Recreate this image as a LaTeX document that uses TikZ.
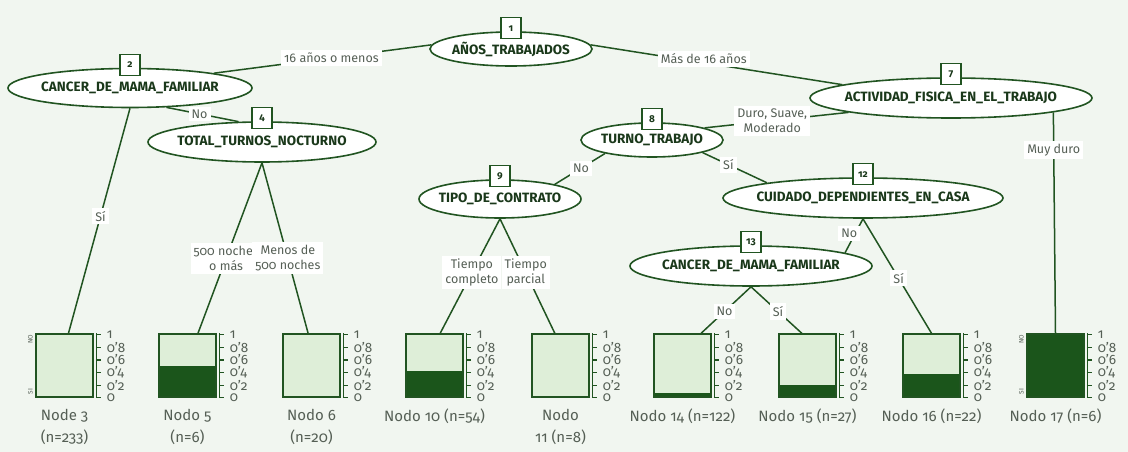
\documentclass[tikz,border=0pt]{standalone}
\usepackage{fontspec}
\setmainfont{Fira Sans}[Numbers=OldStyle]
\usepackage{xcolor}
\usepackage{tikz}
\usetikzlibrary{shapes.geometric}

\definecolor{treegreen}{RGB}{33,84,33}
\definecolor{bardark}{RGB}{27,85,27}
\definecolor{barlight}{RGB}{222,238,216}
\definecolor{pagebg}{RGB}{241,246,240}
\definecolor{namegreen}{RGB}{26,56,26}
\definecolor{labgrey}{RGB}{85,95,85}

% keep the ellipse size independent of the variable name
\newcommand\splitname[1]{\makebox[0pt]{#1}}

\begin{document}
\begin{tikzpicture}[x=1pt, y=-1pt,
    split/.style={ellipse, draw=treegreen, fill=white, line width=1.6pt, inner sep=0pt,
      font=\fontsize{13.5}{15}\selectfont\bfseries, text=namegreen},
    idbox/.style={draw=treegreen, fill=white, line width=1.3pt, minimum width=20pt,
      minimum height=21pt, inner sep=0pt, font=\fontsize{10}{11}\selectfont\bfseries, text=namegreen},
    edge/.style={treegreen, line width=1.5pt},
    elabel/.style={fill=white, inner sep=3pt, align=center, text=labgrey,
      font=\fontsize{12.5}{15}\selectfont},
    leaf/.style={draw=treegreen, fill=barlight, line width=1.4pt, minimum width=57pt,
      minimum height=63pt, inner sep=0pt},
    axis/.style={treegreen, line width=1.2pt},
    ticklab/.style={anchor=west, inner sep=0pt, text=labgrey, font=\fontsize{13.5}{13.5}\selectfont},
    leafcap/.style={anchor=north, inner sep=0pt, align=center, text=labgrey,
      font=\fontsize{15}{22}\selectfont},
    tinylab/.style={rotate=90, inner sep=0pt, text=labgrey, font=\fontsize{6.5}{7}\selectfont}]

    % Page
    \fill[pagebg] (0,0) rectangle (1128,452);
    \useasboundingbox (0,0) rectangle (1128,452);

    % Split nodes
    \node[split, minimum width=162pt, minimum height=34pt] (n1) at (511,49) {\splitname{AÑOS\_TRABAJADOS}};
    \node[split, minimum width=244pt, minimum height=39pt] (n2) at (130,88) {\splitname{CANCER\_DE\_MAMA\_FAMILIAR}};
    \node[split, minimum width=228pt, minimum height=40pt] (n4) at (262,142) {\splitname{TOTAL\_TURNOS\_NOCTURNO}};
    \node[split, minimum width=282pt, minimum height=40pt] (n7) at (951,98) {\splitname{ACTIVIDAD\_FISICA\_EN\_EL\_TRABAJO}};
    \node[split, minimum width=142pt, minimum height=34pt] (n8) at (652,140) {\splitname{TURNO\_TRABAJO}};
    \node[split, minimum width=162pt, minimum height=38pt] (n9) at (500,199) {\splitname{TIPO\_DE\_CONTRATO}};
    \node[split, minimum width=280pt, minimum height=40pt] (n12) at (863,198) {\splitname{CUIDADO\_DEPENDIENTES\_EN\_CASA}};
    \node[split, minimum width=242pt, minimum height=40pt] (n13) at (751,266) {\splitname{CANCER\_DE\_MAMA\_FAMILIAR}};

    % Node numbers
    \foreach \id in {1,2,4,7,8,9,12,13}
      \node[idbox] (b\id) at ([yshift=3pt]n\id.north) {\id};

    % Terminal nodes: bar, scale and caption
    \foreach \id/\x/\p/\cap in {3/36/0/{Node 3\\(n=233)}, 5/159/0.5/{Nodo 5\\(n=6)},
        6/283/0/{Nodo 6\\(n=20)}, 10/406/0.41/{Nodo 10 (n=54)}, 11/532/0/{Nodo\\11 (n=8)},
        14/654/0.06/{Nodo 14 (n=122)}, 15/779/0.19/{Nodo 15 (n=27)},
        16/903/0.36/{Nodo 16 (n=22)}, 17/1027/1/{Nodo 17 (n=6)}}{
      \node[leaf, path picture={\fill[bardark] (path picture bounding box.south west)
          rectangle ([yshift=\p*63pt]path picture bounding box.south east);}]
        (bar\id) at (\x+28.5,365.5) {};
      \draw[axis] ([xshift=3pt]bar\id.north east) -- ([xshift=3pt]bar\id.south east);
      \foreach \t/\lab [count=\k] in {0/0, 0.2/0'2, 0.4/0'4, 0.6/0'6, 0.8/0'8, 1/1}{
        \draw[axis] ([xshift=3pt, yshift=\t*63pt]bar\id.south east) -- ++(4,0);
        \node[ticklab] (tick\id-\k) at ([xshift=13pt, yshift=\t*63pt]bar\id.south east) {\lab};
      }
      \node[leafcap] (cap\id) at ([yshift=-11pt]bar\id.south) {\cap};
    }
    \foreach \id in {3,17}{
      \node[tinylab] (no\id) at ([xshift=-5pt, yshift=-6pt]bar\id.north west) {NO};
      \node[tinylab] (si\id) at ([xshift=-5pt, yshift=6pt]bar\id.south west) {SI};
    }

    % Branches
    \draw[edge] (n1.177) -- node[elabel, pos=0.46] (e2) {16 años o menos} (n2.10);
    \draw[edge] (n1.3) -- node[elabel, pos=0.45, yshift=4pt] (e7) {Más de 16 años} (n7.173);
    \draw[edge] (n2.332) -- node[elabel, pos=0.46] (e4) {No} (n4.139);
    \draw[edge] (n2.south) -- node[elabel, pos=0.48] (e3) {Sí} (bar3.83);
    \draw[edge] (n4.south) -- node[elabel, pos=0.56] (e5) {500 noches\\o más} (bar5.72);
    \draw[edge] (n4.south) -- node[elabel, pos=0.56] (e6) {Menos de\\500 noches} (bar6.96);
    \draw[edge] (n7.188) -- node[elabel, pos=0.53] (e8) {Duro, Suave,\\Moderado} (n8.13);
    \draw[edge] (n7.352) -- node[elabel, pos=0.17] (e17) {Muy duro} (bar17.north);
    \draw[edge] (n8.196) -- node[elabel, pos=0.48] (e9) {No} (n9.15);
    \draw[edge] (n8.346) -- node[elabel, pos=0.4] (e12) {Sí} (n12.171);
    \draw[edge] (n9.south) -- node[elabel, pos=0.47] (e10) {Tiempo\\completo} (bar10.80);
    \draw[edge] (n9.south) -- node[elabel, pos=0.47] (e11) {Tiempo\\parcial} (bar11.100);
    \draw[edge] (n12.south) -- node[elabel, pos=0.43, xshift=-6pt] (e13) {No} (n13.8);
    \draw[edge] (n12.south) -- node[elabel, pos=0.52] (e16) {Sí} (bar16.north);
    \draw[edge] (n13.south) -- node[elabel, pos=0.53] (e14) {No} (bar14.60);
    \draw[edge] (n13.south) -- node[elabel, pos=0.53] (e15) {Sí} (bar15.100);
\end{tikzpicture}
\end{document}
